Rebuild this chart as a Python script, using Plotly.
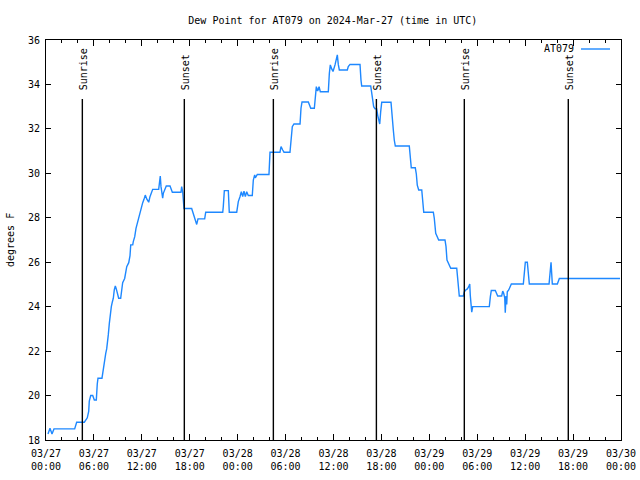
import pandas as pd
import plotly.graph_objects as go

# hours after 2024-03-27 00:00 UTC
hours = [0.25,0.50,0.75,1.00,3.59,3.84,4.80,5.01,5.17,5.35,5.42,5.60,5.85,6.05,6.30,6.42,6.51,7.01,7.10,7.23,
         7.35,7.48,7.60,7.73,7.80,7.93,8.05,8.18,8.30,8.43,8.55,8.68,8.80,8.93,9.10,9.35,9.43,9.52,9.60,9.85,
         10.02,10.11,10.36,10.52,10.61,10.86,10.93,11.11,11.27,11.43,11.61,11.77,11.93,12.11,12.27,12.43,12.61,12.86,13.02,13.19,
         13.36,14.11,14.19,14.31,14.40,14.49,14.61,14.69,14.86,15.06,15.53,15.65,15.82,16.90,16.99,17.12,17.19,17.28,18.24,18.37,
         18.53,18.70,18.87,19.03,19.87,20.00,22.13,22.20,22.33,22.83,22.95,23.88,24.08,24.29,24.46,24.63,24.79,24.96,25.13,25.33,
         25.83,25.96,26.13,26.21,26.46,27.92,27.96,28.05,29.30,29.43,29.64,29.80,30.55,30.68,30.84,31.05,31.81,31.93,32.06,32.85,
         32.97,33.15,33.60,33.72,33.85,34.02,34.19,34.35,35.35,35.48,35.60,35.78,35.94,36.19,36.35,36.48,36.60,36.73,37.73,37.85,
         38.07,39.32,39.44,39.53,40.66,40.78,40.91,41.03,41.20,41.41,41.54,41.66,41.79,41.91,42.04,43.20,43.33,43.49,43.61,43.74,
         45.49,45.62,45.74,46.24,46.37,46.49,46.67,47.05,47.17,47.30,48.50,48.62,48.80,49.00,49.17,49.96,50.09,50.21,50.43,50.68,
         51.43,51.50,51.63,51.75,52.26,52.38,52.56,52.76,52.93,53.06,53.13,53.22,53.31,53.43,55.51,55.64,55.76,56.26,56.44,56.56,
         57.06,57.19,57.31,57.44,57.51,57.60,57.69,57.76,57.94,58.10,58.27,59.77,59.89,60.02,60.27,60.39,60.52,62.99,63.11,63.24,
         63.32,63.40,64.03,64.15,64.28,71.88]

dew_point_f = [18.27,18.53,18.27,18.5,18.5,18.8,18.8,18.9,19.0,19.3,19.75,20.0,20.0,19.8,19.8,20.52,20.78,20.78,21.0,21.5,
               21.78,21.9,22.1,22.4,22.73,23.25,23.7,24.0,24.2,24.38,24.75,24.93,24.8,24.6,24.38,24.38,24.6,24.93,25.08,25.27,
               25.57,25.8,25.98,26.3,26.78,26.78,26.93,27.15,27.52,27.75,28.02,28.28,28.5,28.68,28.83,29.02,28.85,28.7,28.95,29.15,
               29.28,29.28,29.67,29.88,29.4,29.1,28.88,29.1,29.28,29.43,29.43,29.28,29.15,29.15,29.4,29.15,28.7,28.42,28.42,28.25,
               28.05,27.85,27.7,27.95,27.95,28.25,28.25,28.5,29.22,29.22,28.25,28.25,28.73,28.95,29.17,28.95,29.2,28.95,29.17,29.0,
               29.0,29.7,29.93,29.8,29.95,29.95,30.45,30.95,30.95,31.2,31.05,30.95,30.95,31.65,32.1,32.22,32.22,32.93,33.21,33.21,
               33.05,32.93,32.93,33.6,33.9,33.7,33.9,33.67,33.67,34.5,34.88,34.7,34.58,34.88,35.1,35.33,34.9,34.65,34.65,34.8,
               34.9,34.9,34.2,33.93,33.93,33.6,33.38,33.0,32.9,32.9,32.6,32.4,32.22,32.78,33.2,33.2,32.47,31.95,31.5,31.23,
               31.23,30.48,30.25,30.25,29.97,29.47,29.25,29.25,28.55,28.25,28.25,27.98,27.3,27.15,27.0,27.0,26.7,26.1,25.95,25.73,
               25.73,25.5,24.98,24.48,24.48,24.67,24.75,24.8,24.9,25.02,24.5,24.08,23.75,24.0,24.0,24.45,24.73,24.73,24.6,24.48,
               24.48,24.7,24.6,24.4,23.73,24.48,24.1,24.67,24.75,24.85,25.02,25.02,25.65,26.0,26.0,25.5,25.02,25.02,25.4,26.0,
               25.5,25.02,25.02,25.15,25.27,25.27]

sunrise_hours = [4.55, 28.47, 52.38]
sunset_hours = [17.32, 41.37, 65.40]

tick_hours = [0, 6, 12, 18, 24, 30, 36, 42, 48, 54, 60, 66, 72]
tick_labels = ["03/27<br>00:00", "03/27<br>06:00", "03/27<br>12:00", "03/27<br>18:00",
               "03/28<br>00:00", "03/28<br>06:00", "03/28<br>12:00", "03/28<br>18:00",
               "03/29<br>00:00", "03/29<br>06:00", "03/29<br>12:00", "03/29<br>18:00",
               "03/30<br>00:00"]

base = pd.Timestamp("2024-03-27 00:00")
def to_time(h_list):
    return [base + pd.Timedelta(hours=h) for h in h_list]

FONT = "DejaVu Sans Mono"
LINE_COLOR = "#1E88FF"

fig = go.Figure()
fig.add_trace(go.Scatter(x=to_time(hours), y=dew_point_f, mode="lines",
                         line=dict(color=LINE_COLOR, width=1.4), name="AT079",
                         showlegend=False))

events = [(h, "Sunrise") for h in sunrise_hours] + [(h, "Sunset") for h in sunset_hours]
for h, label in events:
    t = base + pd.Timedelta(hours=h)
    fig.add_shape(type="line", xref="x", yref="paper", x0=t, x1=t, y0=0, y1=0.8525,
                  line=dict(color="black", width=1.4))
    fig.add_annotation(x=t, xref="x", y=0.87, yref="paper", text=label, textangle=-90,
                       showarrow=False, xanchor="center", yanchor="bottom", xshift=1,
                       font=dict(family=FONT, size=10, color="black"))

# legend (gnuplot style: text then line sample)
fig.add_annotation(x=0.9217, y=0.9775, xref="paper", yref="paper", text="AT079", showarrow=False,
                   xanchor="right", yanchor="middle", font=dict(family=FONT, size=10, color="black"))
fig.add_shape(type="line", xref="paper", yref="paper", x0=0.9304, x1=0.9809, y0=0.9775, y1=0.9775,
              line=dict(color=LINE_COLOR, width=1.4))

fig.add_annotation(x=-0.0626, y=0.5, xref="paper", yref="paper", text="degrees F", textangle=-90,
                   showarrow=False, xanchor="center", yanchor="middle",
                   font=dict(family=FONT, size=10, color="black"))

fig.update_layout(
    width=640, height=480,
    margin=dict(l=46, r=19, t=40, b=40, autoexpand=False),
    paper_bgcolor="white", plot_bgcolor="white",
    title=dict(text="Dew Point for AT079 on 2024-Mar-27 (time in UTC)", x=0.52, xanchor="center",
               y=1 - 20 / 480, yanchor="middle", font=dict(family=FONT, size=10, color="black")),
    font=dict(family=FONT, size=10, color="black"),
    showlegend=False,
)
fig.update_xaxes(range=[base, base + pd.Timedelta(hours=72)], automargin=False,
                 tickvals=to_time(tick_hours), ticktext=tick_labels, ticklabelstandoff=4,
                 ticks="inside", ticklen=6, tickcolor="black", tickwidth=1,
                 minor=dict(dtick=2 * 3600 * 1000, ticks="inside", ticklen=3, tickcolor="black", tickwidth=1,
                            tick0=base, showgrid=False),
                 showline=True, linecolor="black", linewidth=1, mirror="ticks",
                 showgrid=False, zeroline=False, tickangle=0,
                 tickfont=dict(family=FONT, size=10, color="black"))
fig.update_yaxes(range=[18, 36], dtick=2, tick0=18, automargin=False, ticklabelstandoff=3,
                 ticks="inside", ticklen=5, tickcolor="black", tickwidth=1,
                 showline=True, linecolor="black", linewidth=1, mirror="ticks",
                 showgrid=False, zeroline=False,
                 tickfont=dict(family=FONT, size=10, color="black"))

fig.write_html("out.html")
